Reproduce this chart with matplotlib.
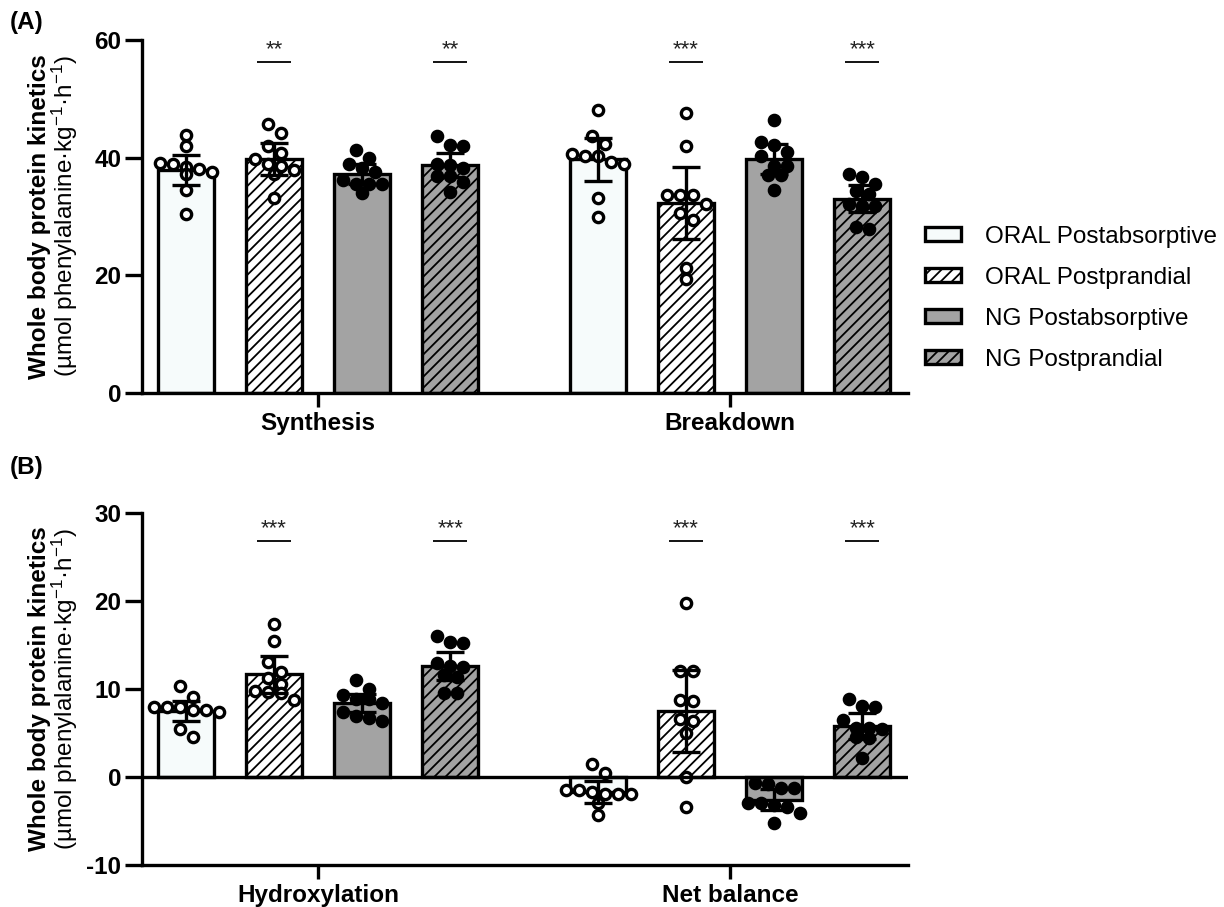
import numpy as np
import matplotlib
matplotlib.use('Agg')
import matplotlib.pyplot as plt
from matplotlib.patches import Patch

plt.rcParams['font.family'] = ['Liberation Sans', 'DejaVu Sans']
plt.rcParams['mathtext.fontset'] = 'custom'
plt.rcParams['mathtext.rm'] = 'Liberation Sans'
plt.rcParams['mathtext.it'] = 'Liberation Sans:italic'
plt.rcParams['mathtext.bf'] = 'Liberation Sans:bold'
plt.rcParams['hatch.linewidth'] = 1.3
plt.rcParams['axes.unicode_minus'] = False

# ---------------- data ----------------
groups = ['ORAL Postabsorptive', 'ORAL Postprandial', 'NG Postabsorptive', 'NG Postprandial']
cats_A = ['Synthesis', 'Breakdown']
cats_B = ['Hydroxylation', 'Net balance']

means_A = [[37.9, 39.8, 37.2, 38.8], [39.7, 32.3, 39.8, 33.0]]
errs_A = [[2.6, 2.7, 1.7, 2.05], [3.6, 6.1, 2.5, 2.3]]
means_B = [[7.5, 11.7, 8.4, 12.6], [-1.7, 7.5, -2.6, 5.8]]
errs_B = [[1.15, 2.1, 1.05, 1.6], [1.2, 4.65, 1.2, 1.5]]

syn_oral_pa = [43.8, 41.9, 39.1, 38.9, 38.4, 38.0, 37.5, 37.2, 34.5, 30.4]
syn_oral_pp = [45.7, 44.2, 42.0, 40.8, 39.7, 39.0, 38.5, 37.9, 37.3, 33.1]
syn_ng_pa = [41.3, 39.9, 38.9, 38.2, 37.5, 36.2, 35.5, 35.5, 35.5, 34.0]
syn_ng_pp = [43.6, 42.1, 41.9, 39.0, 38.8, 38.3, 36.8, 36.8, 35.9, 34.2]
brk_oral_pa = [48.1, 43.6, 42.3, 40.6, 40.3, 40.3, 39.3, 39.0, 33.1, 30.0]
brk_oral_pp = [47.6, 41.9, 33.7, 33.7, 33.7, 32.1, 30.6, 29.4, 21.2, 19.3]
brk_ng_pa = [46.4, 42.6, 42.2, 41.0, 40.3, 38.6, 38.5, 37.1, 37.1, 34.5]
brk_ng_pp = [37.2, 36.7, 35.6, 34.4, 33.8, 32.2, 31.8, 31.8, 28.3, 27.9]
hyd_oral_pa = [10.3, 9.1, 8.0, 7.9, 7.9, 7.6, 7.6, 7.4, 5.5, 4.5]
hyd_oral_pp = [17.4, 15.5, 13.1, 11.9, 11.2, 10.6, 9.8, 9.7, 9.5, 8.8]
hyd_ng_pa = [11.05, 10.0, 9.3, 8.85, 8.85, 8.4, 7.4, 6.9, 6.7, 6.4]
hyd_ng_pp = [16.0, 15.3, 15.2, 13.0, 12.65, 12.5, 11.6, 11.4, 9.5, 9.5]
net_oral_pa = [1.5, 0.5, -1.5, -1.5, -1.7, -1.9, -1.9, -1.9, -3.0, -4.3]
net_oral_pp = [19.8, 12.0, 12.0, 8.7, 8.6, 6.6, 6.4, 5.0, 0.0, -3.4]
net_ng_pa = [-0.65, -0.8, -1.3, -1.3, -3.0, -3.0, -3.2, -3.45, -4.1, -5.2]
net_ng_pp = [8.85, 8.1, 8.0, 6.5, 5.55, 5.55, 5.4, 4.6, 4.4, 2.2]

points_A = [[syn_oral_pa, syn_oral_pp, syn_ng_pa, syn_ng_pp],
            [brk_oral_pa, brk_oral_pp, brk_ng_pa, brk_ng_pp]]
points_B = [[hyd_oral_pa, hyd_oral_pp, hyd_ng_pa, hyd_ng_pp],
            [net_oral_pa, net_oral_pp, net_ng_pa, net_ng_pp]]

sig_A = [['', '**', '', '**'], ['', '***', '', '***']]
sig_B = [['', '***', '', '***'], ['', '***', '', '***']]

# ---------------- style ----------------
W, H = 1224, 907
fig = plt.figure(figsize=(W / 100, H / 100), dpi=100)
axA = fig.add_axes([142 / W, 1 - 393 / H, 766 / W, 353 / H])
axB = fig.add_axes([142 / W, 1 - 865 / H, 766 / W, 352 / H])

offsets = np.array([-1.5, -0.5, 0.5, 1.5])
centers = np.array([0.0, 4.68])
bar_w = 0.64
fills = ['#F6FBFB', 'white', '#A3A3A3', '#A3A3A3']
hatches = [None, '///', None, '///']
open_marker = [True, True, False, False]
LW = 2.4
PX_X = 88.0
FS = 17.5


def swarm(vals, px_per_y, diam=13.0, step=13.0):
    vals = np.asarray(vals, dtype=float)
    order = np.argsort(-vals, kind='stable')
    xs = np.zeros(len(vals))
    rows, cur, start = [], [], None
    for i in order:
        v = vals[i]
        if start is None or (start - v) * px_per_y > diam * 0.85:
            if cur:
                rows.append(cur)
            cur, start = [i], v
        else:
            cur.append(i)
    rows.append(cur)
    for r in rows:
        n = len(r)
        for k, i in enumerate(r):
            xs[i] = (k - (n - 1) / 2) * step / PX_X
    return xs


def draw(ax, means, errs, points, px_per_y, sig, line_y, text_y):
    for c, cx in enumerate(centers):
        for g in range(4):
            x = cx + offsets[g]
            ax.bar(x, means[c][g], width=bar_w, color=fills[g], edgecolor='black',
                   linewidth=LW, hatch=hatches[g], zorder=2)
            xs = swarm(points[c][g], px_per_y)
            ax.plot(x + xs, points[c][g], 'o', ls='none', ms=7.4, mew=2.4, mec='black',
                    mfc='white' if open_marker[g] else 'black', zorder=3, clip_on=False)
            ax.errorbar(x, means[c][g], yerr=errs[c][g], fmt='none', ecolor='black',
                        elinewidth=LW, capsize=10, capthick=LW, zorder=4)
            if sig[c][g]:
                ax.plot([x - 0.19, x + 0.19], [line_y, line_y], color='black', lw=1.3,
                        solid_capstyle='butt')
                ax.text(x, text_y, sig[c][g], ha='center', va='baseline', fontsize=16,
                        color='#222222')


def style(ax, cats):
    for s in ['top', 'right']:
        ax.spines[s].set_visible(False)
    for s in ['left', 'bottom']:
        ax.spines[s].set_linewidth(LW)
    ax.set_xlim(-2.0, 6.70)
    ax.set_xticks(centers)
    ax.set_xticklabels(cats, fontsize=FS, fontweight='bold')
    ax.tick_params(axis='x', length=10, width=LW, pad=4)
    ax.tick_params(axis='y', length=12, width=LW, pad=3, labelsize=FS)
    for t in ax.get_yticklabels():
        t.set_fontweight('bold')


draw(axA, means_A, errs_A, points_A, 353 / 60, sig_A, 56.3, 57.4)
axA.set_ylim(0, 60)
axA.set_yticks([0, 20, 40, 60])
style(axA, cats_A)

draw(axB, means_B, errs_B, points_B, 352 / 40, sig_B, 26.8, 27.6)
axB.set_ylim(-10, 30)
axB.set_yticks([-10, 0, 10, 20, 30])
axB.axhline(0, color='black', lw=LW, zorder=5)
style(axB, cats_B)

# y labels
for ax_top, ax_bot in [(40, 393), (513, 865)]:
    yc = 1 - (ax_top + ax_bot) / 2 / H
    fig.text(40 / W, yc, 'Whole body protein kinetics', rotation=90, ha='center',
             va='center', fontsize=FS, fontweight='bold')
    fig.text(65 / W, yc, '(µmol phenylalanine·kg$^{-1}$·h$^{-1}$)', rotation=90,
             ha='center', va='center', fontsize=FS)

fig.text(10 / W, 1 - 22 / H, '(A)', fontsize=FS, fontweight='bold', va='center')
fig.text(10 / W, 1 - 467 / H, '(B)', fontsize=FS, fontweight='bold', va='center')

handles = [Patch(facecolor=fills[g], edgecolor='black', linewidth=LW, hatch=hatches[g])
           for g in range(4)]
fig.legend(handles, groups, loc='upper left', bbox_to_anchor=(925 / W, 1 - 226 / H),
           frameon=False, fontsize=FS, handlelength=1.5, handleheight=0.5,
           handletextpad=0.95, labelspacing=0.78, borderpad=0, borderaxespad=0)

fig.savefig('out.png', dpi=100)
